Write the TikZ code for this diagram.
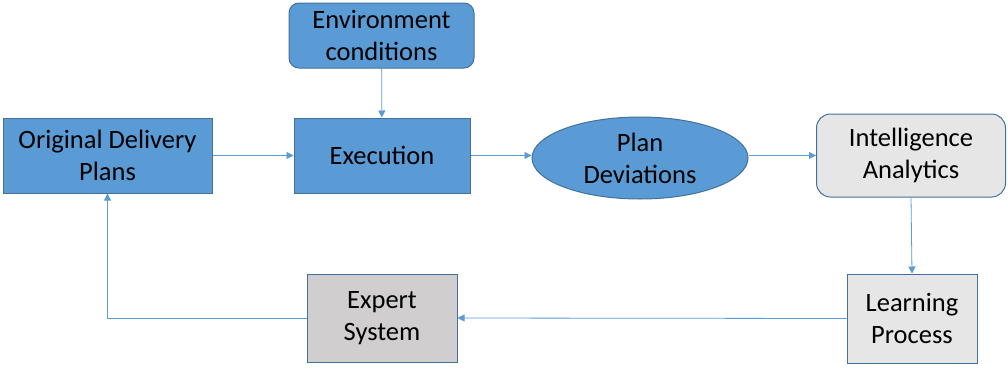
\documentclass[tikz,border=0pt]{standalone}
\usepackage{fontspec}
\setmainfont{Carlito}
\usetikzlibrary{shapes.geometric,arrows.meta}
\definecolor{bfill}{HTML}{5B9BD5}
\definecolor{bdraw}{HTML}{41719C}
\definecolor{glight}{HTML}{E7E6E6}
\definecolor{gdark}{HTML}{D0CECE}
\definecolor{arr}{HTML}{5B9BD5}
\tikzset{
  base/.style={draw=bdraw, line width=1pt, align=center, inner sep=0pt,
    font=\fontsize{26.5}{32}\selectfont, text=black},
  bluebox/.style={base, fill=bfill},
  conn/.style={draw=arr, line width=0.8pt, -{Triangle[length=7pt,width=7pt]}},
}
\begin{document}
\begin{tikzpicture}[x=1pt,y=-1pt]
\useasboundingbox (0,0) rectangle (1008,367);
\node[bluebox, minimum width=209pt, minimum height=75pt] (odp) at (107.5,155.5) {Original Delivery\\Plans};
\node[bluebox, minimum width=176pt, minimum height=75pt] (exe) at (382,155.5) {Execution};
\node[bluebox, rounded corners=10pt, minimum width=185pt, minimum height=65pt] (env) at (381.5,35.5) {Environment\\conditions};
\node[bluebox, ellipse, minimum width=216pt, minimum height=82pt] (pd) at (640,158) {Plan\\Deviations};
\node[base, fill=glight, rounded corners=14pt, minimum width=189pt, minimum height=83pt] (ia) at (911,155.5) {Intelligence\\Analytics};
\node[base, fill=glight, minimum width=130pt, minimum height=89pt] (lp) at (912,318.5) {Learning\\Process};
\node[base, fill=gdark, minimum width=150pt, minimum height=88pt] (es) at (382,318) {Expert\\System};
\draw[conn] (odp.east) -- (exe.west);
\draw[conn] (exe.east) -- (exe.east -| pd.west);
\draw[conn] (ia.west -| pd.east) -- (ia.west);
\draw[conn] (env) -- (exe);
\draw[conn] (ia.south) -- (lp.north);
\draw[conn] (lp.west) -- (es.east);
\draw[conn] (es.west) -| (odp.south);
\end{tikzpicture}
\end{document}
